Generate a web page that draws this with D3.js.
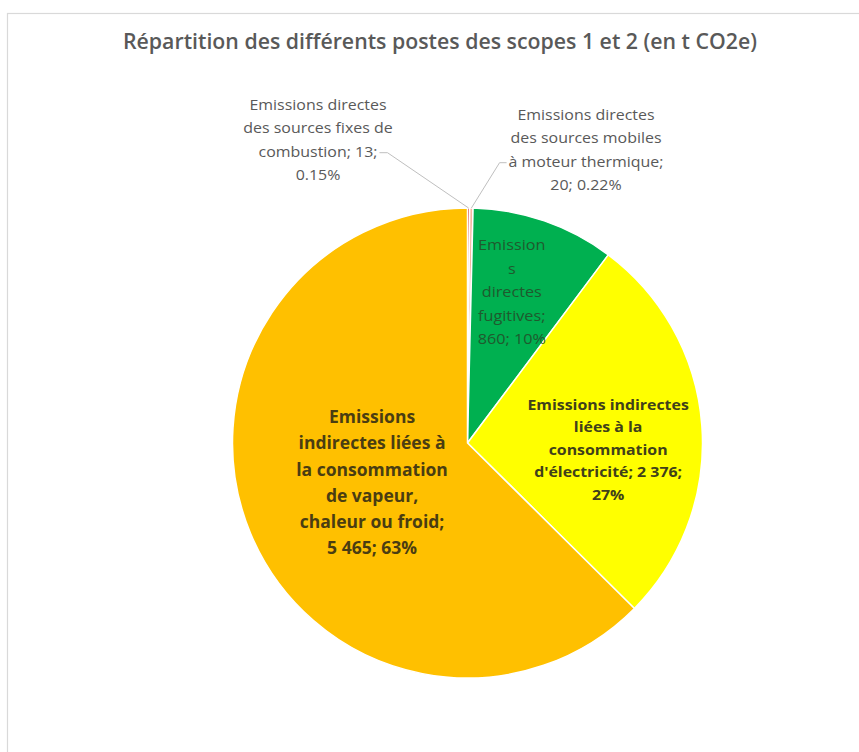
<!DOCTYPE html>
<html><head><meta charset="utf-8">
<script src="https://cdn.jsdelivr.net/npm/d3@7"></script>
<style>body{margin:0;background:#fff}svg{display:block}</style>
</head><body>
<svg id="c" width="859" height="752"></svg>
<script>
// ---- data ----
const title = "Répartition des différents postes des scopes 1 et 2 (en t CO2e)";
const categories = [
  "Emissions directes des sources fixes de combustion",
  "Emissions directes des sources mobiles à moteur thermique",
  "Emissions directes fugitives",
  "Emissions indirectes liées à la consommation d'électricité",
  "Emissions indirectes liées à la consommation de vapeur, chaleur ou froid"
];
const values = [13, 20, 860, 2376, 5465];
const valueLabels = ["13", "20", "860", "2 376", "5 465"];
const percentLabels = ["0.15%", "0.22%", "10%", "27%", "63%"];
const labelLines = [
  ["Emissions directes", "des sources fixes de", "combustion; 13;", "0.15%"],
  ["Emissions directes", "des sources mobiles", "à moteur thermique;", "20; 0.22%"],
  ["Emission", "s", "directes", "fugitives;", "860; 10%"],
  ["Emissions indirectes", "liées à la", "consommation", "d'électricité; 2 376;", "27%"],
  ["Emissions", "indirectes liées à", "la consommation", "de vapeur,", "chaleur ou froid;", "5 465; 63%"]
];
const colors = ["#c00000", "#f4b6a0", "#00b050", "#ffff00", "#ffc000"];

// ---- layout ----
const W = 859, H = 752;
const cx = 467.5, cy = 443, R = 235;
const FONT = "'Open Sans', 'Noto Sans', sans-serif";
const labelStyle = [
  {outside: true, dx: -149.5, dy: -303, size: 14, weight: 400, fill: "#595959", lh: 23.4, sx: 1.14, leaderLine: 2, side: "right"},
  {outside: true, dx: 118.5, dy: -293, size: 14, weight: 400, fill: "#595959", lh: 23.4, sx: 1.14, leaderLine: 2, side: "left"},
  {outside: false, k: 0.68, ax: -8, ay: 0, size: 15, weight: 400, fill: "#1f5a2e", lh: 23.5, sx: 1.08},
  {outside: false, k: 0.60, ax: 0, ay: 17, size: 15, weight: 700, fill: "#40401a", lh: 22.6, sx: 1.06},
  {outside: false, k: 0.44, ax: 0, ay: 0, size: 17, weight: 700, fill: "#4a3d12", lh: 26.2, sx: 1.03}
];

const svg = d3.select("#c");
svg.append("rect").attr("x", 7.5).attr("y", 13.5).attr("width", W).attr("height", H)
  .attr("fill", "#fff").attr("stroke", "#d9d9d9").attr("stroke-width", 1.2);

svg.append("text").attr("x", 440).attr("y", 42).attr("dy", "0.35em")
  .attr("text-anchor", "middle").attr("font-family", FONT).attr("font-size", 21)
  .attr("font-weight", 600).attr("fill", "#595959")
  .attr("textLength", 634).attr("lengthAdjust", "spacingAndGlyphs")
  .text(title);

const pie = d3.pie().sort(null).value(d => d)(values);
const arc = d3.arc().innerRadius(0).outerRadius(R);
const g = svg.append("g").attr("transform", `translate(${cx},${cy})`);
g.selectAll("path.slice").data(pie).join("path").attr("class", "slice")
  .attr("d", arc).attr("fill", (d, i) => colors[i])
  .attr("stroke", "#fff").attr("stroke-width", 1.5).attr("stroke-linejoin", "round");

function drawLabel(lines, x, y, st) {
  const grp = g.append("g").attr("transform", `translate(${x},${y}) scale(${st.sx},1)`);
  const n = lines.length;
  return lines.map((t, i) => grp.append("text")
    .attr("x", 0).attr("y", (i - (n - 1) / 2) * st.lh).attr("dy", "0.35em")
    .attr("text-anchor", "middle").attr("font-family", FONT)
    .attr("font-size", st.size).attr("font-weight", st.weight).attr("fill", st.fill)
    .text(t));
}

pie.forEach((d, i) => {
  const st = labelStyle[i];
  const lines = labelLines[i];
  const a = (d.startAngle + d.endAngle) / 2;
  if (st.outside) {
    const texts = drawLabel(lines, st.dx, st.dy, st);
    const n = lines.length;
    const li = st.leaderLine;
    const w = texts[li].node().getComputedTextLength() * st.sx;
    const ly = st.dy + (li - (n - 1) / 2) * st.lh + 1;
    const px = Math.sin(a) * R, py = -Math.cos(a) * R;
    let x0, x1;
    if (st.side === "right") { x0 = st.dx + w / 2 + 2; x1 = x0 + 8; }
    else { x0 = st.dx - w / 2 - 2; x1 = x0 - 7; }
    g.append("path").attr("d", d3.line()([[x0, ly], [x1, ly], [px, py]]))
      .attr("fill", "none").attr("stroke", "#bfbfbf").attr("stroke-width", 1);
  } else {
    const r = R * st.k;
    drawLabel(lines, Math.sin(a) * r + st.ax, -Math.cos(a) * r + st.ay, st);
  }
});
</script>
</body></html>
